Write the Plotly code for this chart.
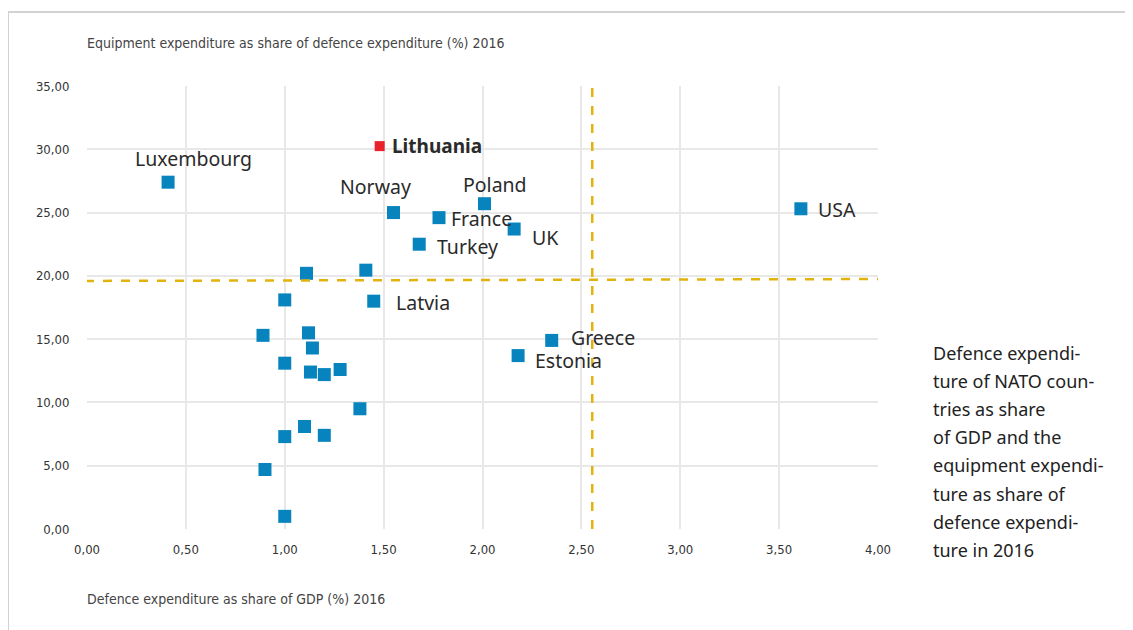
import plotly.graph_objects as go

# ---- data ----
labeled_names = ["Luxembourg", "Norway", "France", "Poland", "UK", "Turkey", "USA",
                 "Latvia", "Greece", "Estonia"]
labeled_gdp = [0.41, 1.55, 1.78, 2.01, 2.16, 1.68, 3.61, 1.45, 2.35, 2.18]
labeled_equip = [27.4, 25.0, 24.6, 25.7, 23.7, 22.5, 25.3, 18.0, 14.9, 13.7]

other_gdp = [1.11, 1.41, 1.00, 0.89, 1.12, 1.14, 1.00, 1.13, 1.20, 1.28,
             1.38, 1.10, 1.20, 1.00, 0.90, 1.00]
other_equip = [20.2, 20.45, 18.1, 15.3, 15.5, 14.3, 13.1, 12.4, 12.2, 12.6,
               9.5, 8.1, 7.4, 7.3, 4.7, 1.0]

lithuania_name = "Lithuania"
lithuania_gdp = [1.48]
lithuania_equip = [30.25]

avg_gdp = 2.555
avg_equip_left, avg_equip_right = 19.6, 19.75

x_ticks = [0, 0.5, 1.0, 1.5, 2.0, 2.5, 3.0, 3.5, 4.0]
y_ticks = [0, 5, 10, 15, 20, 25, 30, 35]
x_tick_text = ["0,00", "0,50", "1,00", "1,50", "2,00", "2,50", "3,00", "3,50", "4,00"]
y_tick_text = ["0,00", "5,00", "10,00", "15,00", "20,00", "25,00", "30,00", "35,00"]

side_text_lines = ["Defence expendi-", "ture of NATO coun-", "tries as share",
                   "of GDP and the", "equipment expendi-", "ture as share of",
                   "defence expendi-", "ture in 2016"]

y_title = "Equipment expenditure as share of defence expenditure (%) 2016"
x_title = "Defence expenditure as share of GDP (%) 2016"

# ---- styles ----
BLUE = "#0784BE"
RED = "#E8212B"
GOLD = "#E2B20E"
GRID = "#E8E8E8"
NARROW = "Liberation Sans Narrow, DejaVu Sans Condensed, Arial Narrow, sans-serif"
LABEL_FONT = "Noto Sans, Open Sans, sans-serif"

# label offsets (pixels): (xshift, yshift, xanchor)
label_offsets = {
    "Luxembourg": (25, 24, "center"),
    "Norway": (-18, 26, "center"),
    "France": (10, -1, "left"),
    "Poland": (11, 19, "center"),
    "UK": (16, -8, "left"),
    "Turkey": (16, -2, "left"),
    "USA": (15, -1, "left"),
    "Latvia": (20, -1, "left"),
    "Greece": (17, 3, "left"),
    "Estonia": (15, -5, "left"),
}

# page-pixel geometry (page has 8px body margin)
OFF = 8
W, H = 1133 - OFF, 630 - OFF
PL, PR, PT, PB = 87, 878, 86, 529   # plot area in page pixels


def px_x(p):
    return (p - PL) / (PR - PL)


def px_y(p):
    return (PB - p) / (PB - PT)


fig = go.Figure()

fig.add_trace(go.Scatter(
    x=other_gdp + labeled_gdp, y=other_equip + labeled_equip, mode="markers",
    marker=dict(symbol="square", size=13, color=BLUE, line=dict(width=0)),
    cliponaxis=False, showlegend=False, hoverinfo="skip"))

fig.add_trace(go.Scatter(
    x=lithuania_gdp, y=lithuania_equip, mode="markers",
    marker=dict(symbol="square", size=10, color=RED, line=dict(width=0)),
    cliponaxis=False, showlegend=False, hoverinfo="skip"))

# average lines
fig.add_shape(type="line", xref="x", yref="y", x0=-0.01, x1=4.0,
              y0=avg_equip_left, y1=avg_equip_right,
              line=dict(color=GOLD, width=2.5, dash="9px,9px"))
fig.add_shape(type="line", xref="x", yref="y", x0=avg_gdp, x1=avg_gdp,
              y0=0, y1=35, line=dict(color=GOLD, width=2.5, dash="9px,9px"))

annotations = []
for name, gx, gy in zip(labeled_names, labeled_gdp, labeled_equip):
    xs, ys, xa = label_offsets[name]
    annotations.append(dict(x=gx, y=gy, xref="x", yref="y", text=name, showarrow=False,
                            xshift=xs, yshift=ys, xanchor=xa, yanchor="middle",
                            font=dict(family=LABEL_FONT, size=19.5, color="#2A2A2A")))
annotations.append(dict(x=lithuania_gdp[0], y=lithuania_equip[0], xref="x", yref="y",
                        text="<b>" + lithuania_name + "</b>", showarrow=False,
                        xshift=10, yshift=0, xanchor="left", yanchor="middle",
                        font=dict(family=LABEL_FONT, size=19, color="#2A2A2A")))

annotations.append(dict(x=px_x(85), y=px_y(43), xref="paper", yref="paper", text=y_title,
                        showarrow=False, xanchor="left", yanchor="middle",
                        font=dict(family=NARROW, size=14, color="#444444")))
annotations.append(dict(x=px_x(85), y=px_y(599), xref="paper", yref="paper", text=x_title,
                        showarrow=False, xanchor="left", yanchor="middle",
                        font=dict(family=NARROW, size=14, color="#444444")))

for i, line in enumerate(side_text_lines):
    annotations.append(dict(x=px_x(931), y=px_y(353 + i * 28.1), xref="paper", yref="paper",
                            text=line, showarrow=False, xanchor="left", yanchor="middle",
                            font=dict(family=LABEL_FONT, size=18, color="#222222")))

# frame
fig.add_shape(type="line", xref="paper", yref="paper",
              x0=px_x(7), x1=px_x(1140), y0=px_y(12), y1=px_y(12),
              line=dict(color="#D2D2D2", width=2))
fig.add_shape(type="line", xref="paper", yref="paper",
              x0=px_x(8), x1=px_x(8), y0=px_y(12), y1=px_y(640),
              line=dict(color="#D2D2D2", width=2))

fig.update_layout(
    width=W, height=H,
    margin=dict(l=PL - OFF, r=W - (PR - OFF), t=PT - OFF, b=H - (PB - OFF), pad=0),
    paper_bgcolor="white", plot_bgcolor="white",
    annotations=annotations,
    showlegend=False,
    xaxis=dict(range=[0, 4], tickvals=x_ticks, ticktext=x_tick_text,
               showgrid=True, gridcolor=GRID, gridwidth=1.5, zeroline=False,
               showline=False, ticks="outside", ticklen=8, tickcolor="rgba(0,0,0,0)",
               tickfont=dict(family=NARROW, size=13, color="#333333")),
    yaxis=dict(range=[0, 35], tickvals=y_ticks, ticktext=y_tick_text,
               showgrid=True, gridcolor=GRID, gridwidth=1.5, zeroline=False,
               showline=False, ticks="outside", ticklen=14, tickcolor="rgba(0,0,0,0)",
               tickfont=dict(family=NARROW, size=13, color="#333333")),
)

fig.write_html("out.html")
